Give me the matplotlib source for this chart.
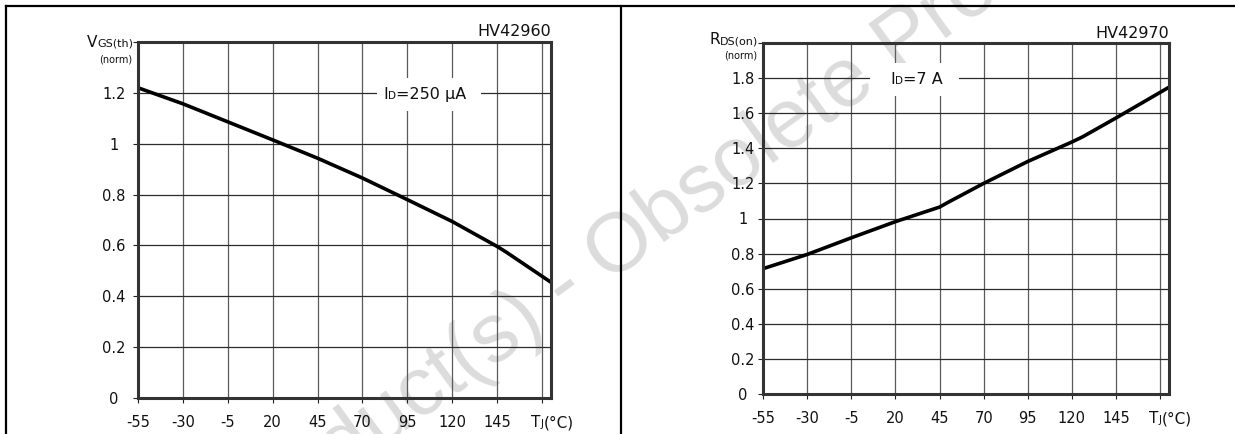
import matplotlib
matplotlib.use("Agg")
import matplotlib.pyplot as plt
from matplotlib.lines import Line2D

plt.rcParams['font.family'] = ['DejaVu Sans']

# ---- data ----
temps_vgs = [-55, -30, -5, 20, 45, 70, 95, 120, 145, 150, 175]
vgs_norm = [1.22, 1.157, 1.086, 1.015, 0.943, 0.865, 0.78, 0.694, 0.596, 0.574, 0.455]

temps_rds = [-55, -30, -5, 20, 45, 50, 70, 95, 120, 126, 145, 175]
rds_norm = [0.714, 0.795, 0.89, 0.982, 1.065, 1.093, 1.2, 1.325, 1.436, 1.465, 1.573, 1.748]

x_ticks = [-55, -30, -5, 20, 45, 70, 95, 120, 145, 170]
vgs_yticks = [0, 0.2, 0.4, 0.6, 0.8, 1.0, 1.2, 1.4]
rds_yticks = [0, 0.2, 0.4, 0.6, 0.8, 1.0, 1.2, 1.4, 1.6, 1.8, 2.0]

W, H = 1235, 434
INK = '#111111'


def mixed(ax, parts, xy, coords, dx, dy, align='left'):
    """Chain text pieces of different sizes on one baseline."""
    ycoords = coords[1] if isinstance(coords, tuple) else coords
    seq = parts if align == 'left' else parts[::-1]
    edge = 1 if align == 'left' else 0
    prev = None
    for s, size in seq:
        if prev is None:
            prev = ax.annotate(s, xy=xy, xycoords=coords, xytext=(dx, dy),
                               textcoords='offset pixels', ha=align,
                               va='baseline', fontsize=size, color=INK,
                               annotation_clip=False)
        else:
            prev = ax.annotate(s, xy=(edge, xy[1]), xycoords=(prev, ycoords),
                               xytext=(0, dy), textcoords='offset pixels',
                               ha=align, va='baseline', fontsize=size,
                               color=INK, annotation_clip=False)


def label_box(ax, xy, n_spaces):
    # white patch that breaks the grid behind a curve label
    ax.annotate(" " * n_spaces, xy=xy, xytext=(0, -6),
                textcoords='offset pixels', ha='center', va='baseline',
                fontsize=11.5,
                bbox=dict(boxstyle='square,pad=0.55', fc='white', ec='none'))


def style(ax, yticks, ypad):
    ax.set_xlim(-55, 175)
    ax.set_ylim(0, yticks[-1])
    ax.set_xticks(x_ticks)
    ax.set_xticklabels([f"{t}" for t in x_ticks[:-1]] + [""])
    ax.set_yticks(yticks)
    ax.set_yticklabels([f"{v:g}" for v in yticks[:-1]] + [""])
    ax.tick_params(direction='out', length=3.6, width=0.8, color='#222222',
                   labelsize=10.5, labelcolor=INK)
    ax.tick_params(axis='x', pad=8.5)
    ax.tick_params(axis='y', pad=ypad)
    for lab in ax.get_yticklabels():
        lab.set_horizontalalignment('center')
    ax.set_axisbelow(True)
    ax.grid(True, axis='y', color='#2b2b2b', lw=0.9)
    ax.grid(True, axis='x', color='#5a5a5a', lw=0.9)
    for sp in ax.spines.values():
        sp.set_linewidth(2.2)
        sp.set_color('#333333')
    ax.set_facecolor('none')
    # T_J(°C) at the last x tick
    mixed(ax, [("T", 11), ("J", 7.5), ("(°C)", 11)], (170, 0),
          ('data', 'axes fraction'), -11, -29)


fig = plt.figure(figsize=(W / 100, H / 100), dpi=100)

# watermark
fig.text(565 / W, 1 - 288 / H, "Obsolete Product(s) - Obsolete Product(s)",
         fontsize=60, color='#dcdcdc', rotation=36, ha='center', va='center',
         rotation_mode='anchor', family='Liberation Sans', zorder=-1)

ax1 = fig.add_axes([138 / W, 1 - 398 / H, 413 / W, 356 / H])
ax2 = fig.add_axes([763 / W, 1 - 394 / H, 406 / W, 351 / H])

# left: gate threshold voltage vs temperature
style(ax1, vgs_yticks, 13.7)
ax1.plot(temps_vgs, vgs_norm, color='black', lw=2.6, zorder=2)
mixed(ax1, [("V", 11), ("GS(th)", 8)], (0, 1), 'axes fraction', -5, -5,
      align='right')
mixed(ax1, [("(norm)", 7)], (0, 1), 'axes fraction', -6, -21, align='right')
ax1.annotate("HV42960", xy=(1, 1), xycoords='axes fraction', xytext=(0, 6),
             textcoords='offset pixels', ha='right', va='baseline',
             fontsize=11.5, color=INK)
label_box(ax1, (107, 1.2), 17)
mixed(ax1, [("I", 11.5), ("D", 7.5), ("=250 µA", 11.5)], (81.5, 1.2), 'data',
      0, -6)

# right: on-resistance vs temperature
style(ax2, rds_yticks, 10.8)
ax2.plot(temps_rds, rds_norm, color='black', lw=2.6, zorder=2)
mixed(ax2, [("R", 11), ("DS(on)", 8)], (0, 1), 'axes fraction', -5, -1,
      align='right')
mixed(ax2, [("(norm)", 7)], (0, 1), 'axes fraction', -6, -15, align='right')
ax2.annotate("HV42970", xy=(1, 1), xycoords='axes fraction', xytext=(0, 5),
             textcoords='offset pixels', ha='right', va='baseline',
             fontsize=11.5, color=INK)
label_box(ax2, (31, 1.8), 14)
mixed(ax2, [("I", 11.5), ("D", 7.5), ("=7 A", 11.5)], (17, 1.8), 'data',
      0, -6)

# page frame lines
for xs, ys in [((6, W), (6, 6)), ((6, 6), (6, H)), ((620.5, 620.5), (6, H))]:
    fig.add_artist(Line2D([x / W for x in xs], [1 - y / H for y in ys],
                          transform=fig.transFigure, color='black', lw=1.6))

fig.savefig("out.png", dpi=100)
